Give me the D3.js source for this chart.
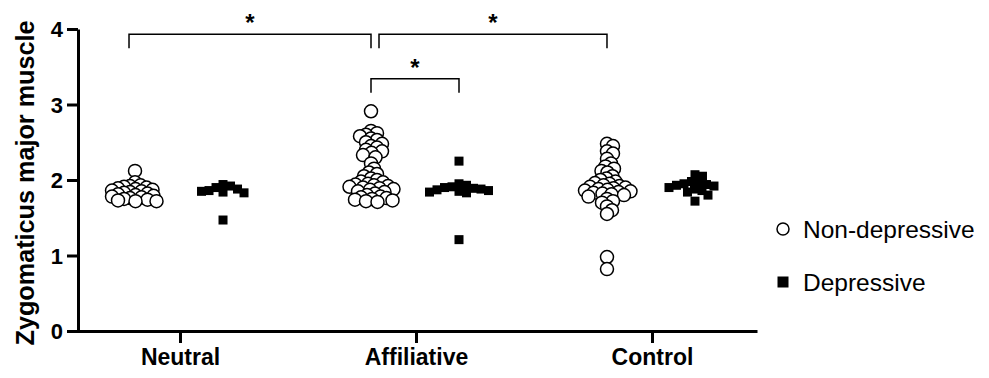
<!DOCTYPE html>
<html>
<head>
<meta charset="utf-8">
<script src="https://cdn.jsdelivr.net/npm/d3@7"></script>
<style>
	body { margin: 0; background: #fff; }
	svg { font-family: "Liberation Sans", Arial, sans-serif; }
	.axis path, .axis line { stroke: #000; stroke-width: 3px; }
	.axis text { fill: #000; font-weight: bold; }
</style>
</head>
<body>
<div id="chart"></div>
<script>
// --- data ---
const categories	= ['Neutral', 'Affiliative', 'Control'];
const groups		= ['Non-depressive', 'Depressive'];
const yTicks		= [0, 1, 2, 3, 4];

const neutralNonDep		= [2.12, 1.97, 1.93, 1.92, 1.91, 1.90, 1.89, 1.88, 1.87, 1.86, 1.85, 1.84, 1.83,
	1.82, 1.81, 1.80, 1.79, 1.78, 1.77, 1.76, 1.75, 1.74, 1.73, 1.72, 1.72];
const neutralDep		= [1.94, 1.92, 1.90, 1.88, 1.85, 1.83, 1.86, 1.84, 1.47];
const affiliativeNonDep	= [2.91, 2.65, 2.62, 2.60, 2.58, 2.55, 2.53, 2.50, 2.48, 2.45, 2.43, 2.40, 2.38,
	2.36, 2.33, 2.30, 2.22, 2.15, 2.10, 2.08, 2.05, 2.02, 2.00, 1.98, 1.97, 1.95, 1.94, 1.93, 1.92,
	1.91, 1.90, 1.89, 1.88, 1.87, 1.85, 1.84, 1.82, 1.80, 1.78, 1.77, 1.76, 1.75, 1.74, 1.73, 1.72, 1.71];
const affiliativeDep	= [2.25, 1.95, 1.93, 1.91, 1.90, 1.89, 1.88, 1.87, 1.86, 1.85, 1.84, 1.83, 1.21];
const controlNonDep		= [2.48, 2.45, 2.38, 2.35, 2.28, 2.22, 2.18, 2.15, 2.12, 2.10, 2.05, 2.02, 2.00,
	1.98, 1.96, 1.95, 1.93, 1.92, 1.91, 1.90, 1.89, 1.88, 1.87, 1.86, 1.85, 1.84, 1.83, 1.82, 1.81,
	1.80, 1.78, 1.75, 1.72, 1.70, 1.65, 1.60, 1.55, 0.98, 0.82];
const controlDep		= [2.07, 2.05, 1.98, 1.96, 1.95, 1.94, 1.93, 1.92, 1.90, 1.88, 1.86, 1.84, 1.80, 1.72];

// significance brackets: [category, group] -> [category, group], bracket height (y units)
const brackets = [
	{ from: ['Neutral', 'Non-depressive'], to: ['Affiliative', 'Non-depressive'], level: 3.93, label: '*' },
	{ from: ['Affiliative', 'Non-depressive'], to: ['Control', 'Non-depressive'], level: 3.93, label: '*' },
	{ from: ['Affiliative', 'Non-depressive'], to: ['Affiliative', 'Depressive'], level: 3.34, label: '*' }
];

const series = [
	{ cat: 'Neutral', group: 'Non-depressive', values: neutralNonDep },
	{ cat: 'Neutral', group: 'Depressive', values: neutralDep },
	{ cat: 'Affiliative', group: 'Non-depressive', values: affiliativeNonDep },
	{ cat: 'Affiliative', group: 'Depressive', values: affiliativeDep },
	{ cat: 'Control', group: 'Non-depressive', values: controlNonDep },
	{ cat: 'Control', group: 'Depressive', values: controlDep }
];

// --- layout ---
let canvasWidth		= 989;
let canvasHeight	= 378;

let x	= d3.scalePoint().domain(categories).range([75, 757]).padding(0.445);
let xg	= d3.scalePoint().domain(groups).range([-45, 43]);
let y	= d3.scaleLinear().domain([0, 4]).range([331, 29]);

let svg = d3.select('#chart').append('svg')
	.attr('width', canvasWidth)
	.attr('height', canvasHeight);

// y axis
let yAxis = svg.append('g')
	.attr('class', 'axis')
	.attr('transform', 'translate(78,0)')
	.call(d3.axisLeft(y).tickValues(yTicks).tickFormat(d3.format('d')).tickSize(11).tickSizeOuter(0).tickPadding(4));
yAxis.selectAll('text').style('font-size', '22px').attr('dy', '0.36em');

// x axis
let xAxis = svg.append('g')
	.attr('class', 'axis')
	.attr('transform', 'translate(0,331)')
	.call(d3.axisBottom(x).tickSize(12).tickSizeOuter(0).tickPadding(6));
xAxis.selectAll('text').style('font-size', '23px');

svg.append('text')
	.attr('transform', 'translate(34,183) rotate(-90)')
	.attr('text-anchor', 'middle')
	.attr('textLength', 325)
	.attr('lengthAdjust', 'spacingAndGlyphs')
	.style('font-size', '25px')
	.style('font-weight', 'bold')
	.text('Zygomaticus major muscle');

// simple beeswarm: place each point at the nearest free horizontal offset
function swarm(values, minD) {
	let placed = [];
	values.slice().sort((a, b) => b - a).forEach((v) => {
		let py = y(v);
		for (let k = 0; k < 400; k++) {
			let cands = k === 0 ? [0] : [k * 0.5, -k * 0.5];
			let ok = cands.find((dx) => placed.every((p) => (p.dx - dx) ** 2 + (p.py - py) ** 2 >= minD * minD));
			if (ok !== undefined) { placed.push({ v: v, dx: ok, py: py }); break; }
		}
	});
	return placed;
}

series.forEach((s) => {
	let cx = x(s.cat) + xg(s.group);
	let g = svg.append('g').attr('class', 'group-dots');
	if (s.group === 'Non-depressive') {
		g.selectAll('circle')
			.data(swarm(s.values, 6)).enter().append('circle')
				.attr('cx', (o) => cx + o.dx)
				.attr('cy', (o) => o.py)
				.attr('r', 6.5)
				.attr('fill', '#fff')
				.attr('stroke', '#000')
				.attr('stroke-width', 1.5);
	} else {
		g.selectAll('rect')
			.data(swarm(s.values, 7.5)).enter().append('rect')
				.attr('x', (o) => cx + o.dx - 4.5)
				.attr('y', (o) => o.py - 4.5)
				.attr('width', 9)
				.attr('height', 9)
				.attr('fill', '#000');
	}
});

// brackets
let bk = svg.append('g').attr('class', 'brackets');
brackets.forEach((b, i) => {
	let x1 = x(b.from[0]) + xg(b.from[1]);
	let x2 = x(b.to[0]) + xg(b.to[1]);
	if (i === 0) x1 -= 6;
	if (i === 1) x1 += 8;
	let top = y(b.level);
	let bot = top + 14;
	bk.append('path')
		.attr('d', 'M' + x1 + ',' + bot + 'V' + top + 'H' + x2 + 'V' + bot)
		.attr('fill', 'none')
		.attr('stroke', '#000')
		.attr('stroke-width', 1.5);
	bk.append('text')
		.attr('x', (x1 + x2) / 2)
		.attr('y', top - 3)
		.attr('text-anchor', 'middle')
		.style('font-size', '24px')
		.style('font-weight', 'bold')
		.text(b.label);
});

// legend
let legend = svg.append('g').attr('class', 'legend');
groups.forEach((gname, i) => {
	let ly = 229 + i * 53;
	if (i === 0) {
		legend.append('circle').attr('cx', 783).attr('cy', ly).attr('r', 6)
			.attr('fill', '#fff').attr('stroke', '#000').attr('stroke-width', 1.5);
	} else {
		legend.append('rect').attr('x', 777.5).attr('y', ly - 5.5).attr('width', 11).attr('height', 11)
			.attr('fill', '#000');
	}
	legend.append('text')
		.attr('x', 803)
		.attr('y', ly + 9)
		.style('font-size', '24.5px')
		.text(gname);
});
</script>
</body>
</html>
